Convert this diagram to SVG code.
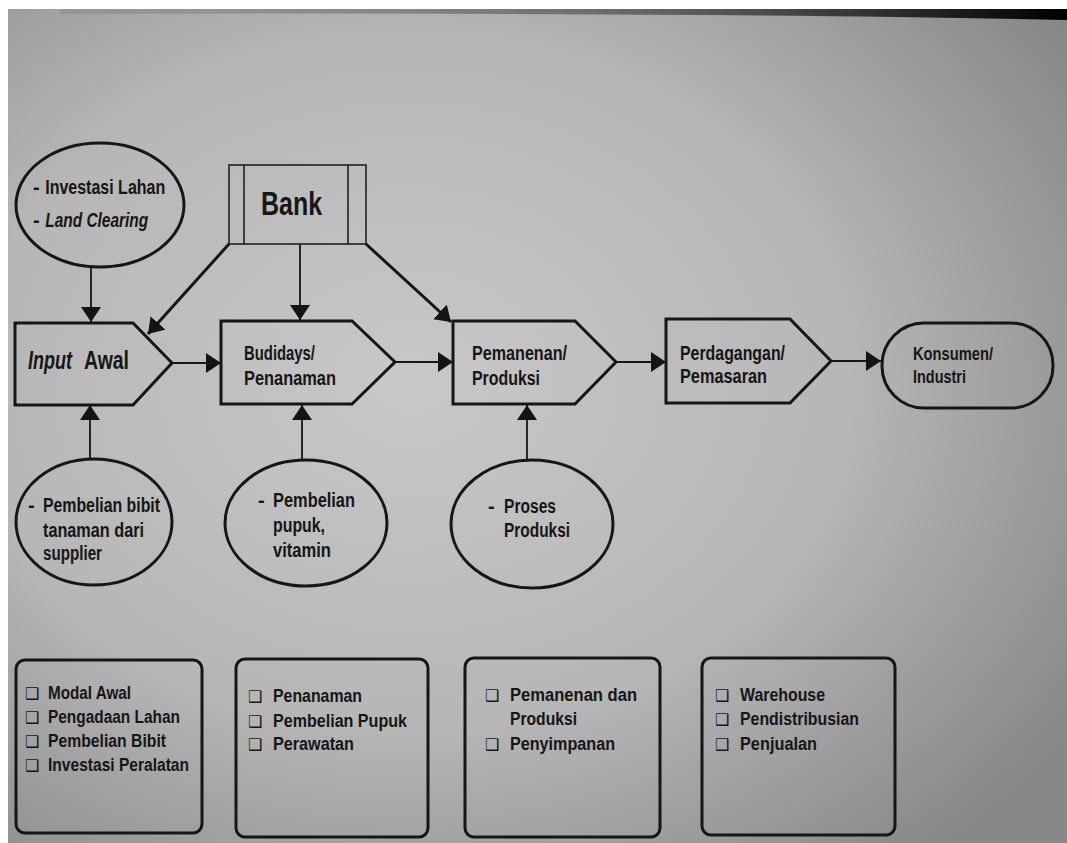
<svg xmlns="http://www.w3.org/2000/svg" width="1067" height="843" viewBox="0 0 1067 843">
<defs>
  <radialGradient id="bg" cx="0.38" cy="0.45" r="0.75">
    <stop offset="0" stop-color="#c8c8c8"/>
    <stop offset="0.55" stop-color="#b6b6b6"/>
    <stop offset="1" stop-color="#878787"/>
  </radialGradient>
  <linearGradient id="topband" x1="0" y1="0" x2="1" y2="0">
    <stop offset="0" stop-color="#777" stop-opacity="0.3"/>
    <stop offset="0.6" stop-color="#333" stop-opacity="0.6"/>
    <stop offset="1" stop-color="#000" stop-opacity="1"/>
  </linearGradient>
  <marker id="ah" markerUnits="userSpaceOnUse" markerWidth="16" markerHeight="20" refX="15" refY="10" orient="auto">
    <path d="M0,0 L15,10 L0,20 z" fill="#141414"/>
  </marker>
  <style>
    .shape { fill: none; stroke: #161616; stroke-width: 3; }
    .thin { fill: none; stroke: #161616; stroke-width: 1.5; }
    .conn { fill: none; stroke: #161616; stroke-width: 1.8; marker-end: url(#ah); }
    .connb { fill: none; stroke: #161616; stroke-width: 3; marker-end: url(#ah); }
    text { font-family: "Liberation Sans Narrow", "Liberation Sans", Arial, sans-serif; fill: #161616; font-weight: bold; }
    .node { font-size: 21px; }
    .ell { font-size: 20px; }
    .item { font-size: 18px; }
    .cb { font-family: "DejaVu Sans", sans-serif; font-size: 16px; font-weight: normal; }
  </style>
</defs>

<rect x="0" y="0" width="1067" height="843" fill="#ffffff"/>
<rect x="8" y="9" width="1059" height="834" fill="url(#bg)"/>
<path d="M60,9 L1067,9 L1067,20 Q700,12 60,14 z" fill="url(#topband)"/>

<g id="connectors">
  <path class="conn" d="M91,267 V322"/>
  <path class="connb" d="M229,244 L148,334"/>
  <path class="conn" d="M300,244 V320"/>
  <path class="connb" d="M366,244 L451,322"/>
  <path class="conn" d="M172,363 H221"/>
  <path class="conn" d="M395,362 H453"/>
  <path class="conn" d="M616,362 H666"/>
  <path class="conn" d="M831,361 H881"/>
  <path class="conn" d="M90,460 V405"/>
  <path class="conn" d="M302,460 V405"/>
  <path class="conn" d="M527,460 V405"/>
</g>

<g id="investasi">
  <ellipse class="shape" cx="100" cy="205" rx="84" ry="62"/>
  <text class="ell" x="33" y="194">- <tspan textLength="120" lengthAdjust="spacingAndGlyphs">Investasi Lahan</tspan></text>
  <text class="ell" x="33" y="227" font-style="italic">- <tspan textLength="103" lengthAdjust="spacingAndGlyphs">Land Clearing</tspan></text>
</g>

<g id="bank">
  <rect class="thin" x="229" y="165" width="137" height="79"/>
  <line class="thin" x1="244" y1="165" x2="244" y2="244"/>
  <line class="thin" x1="348" y1="165" x2="348" y2="244"/>
  <text x="261" y="215" font-size="34" textLength="61" lengthAdjust="spacingAndGlyphs">Bank</text>
</g>

<g id="input-awal">
  <path class="shape" d="M15,323 H133 L172,363 L133,405 H15 z"/>
  <text x="28" y="369" font-size="25" font-style="italic" textLength="44" lengthAdjust="spacingAndGlyphs">Input</text>
  <text x="84" y="369" font-size="25" textLength="45" lengthAdjust="spacingAndGlyphs">Awal</text>
</g>

<g id="budidaya">
  <path class="shape" d="M221,321 H352 L395,362 L352,404 H221 z"/>
  <text class="node" x="244" y="360" textLength="71" lengthAdjust="spacingAndGlyphs">Budidays/</text>
  <text class="node" x="244" y="385" textLength="92" lengthAdjust="spacingAndGlyphs">Penanaman</text>
</g>

<g id="pemanenan">
  <path class="shape" d="M453,321 H575 L616,362 L575,404 H453 z"/>
  <text class="node" x="472" y="360" textLength="95" lengthAdjust="spacingAndGlyphs">Pemanenan/</text>
  <text class="node" x="472" y="385" textLength="68" lengthAdjust="spacingAndGlyphs">Produksi</text>
</g>

<g id="perdagangan">
  <path class="shape" d="M666,319 H790 L831,361 L790,403 H666 z"/>
  <text class="node" x="680" y="360" textLength="105" lengthAdjust="spacingAndGlyphs">Perdagangan/</text>
  <text class="node" x="680" y="383" textLength="87" lengthAdjust="spacingAndGlyphs">Pemasaran</text>
</g>

<g id="konsumen">
  <rect class="shape" x="882" y="323" width="171" height="85" rx="42" ry="42"/>
  <text x="913" y="360" font-size="19" font-weight="normal" textLength="80" lengthAdjust="spacingAndGlyphs">Konsumen/</text>
  <text x="913" y="383" font-size="19" font-weight="normal" textLength="53" lengthAdjust="spacingAndGlyphs">Industri</text>
</g>

<g id="bibit">
  <ellipse class="shape" cx="94" cy="522" rx="78" ry="63"/>
  <text class="ell" x="28" y="512">-</text>
  <text class="ell" x="43" y="512" textLength="117" lengthAdjust="spacingAndGlyphs">Pembelian bibit</text>
  <text class="ell" x="43" y="537" textLength="101" lengthAdjust="spacingAndGlyphs">tanaman dari</text>
  <text class="ell" x="43" y="560" textLength="59" lengthAdjust="spacingAndGlyphs">supplier</text>
</g>

<g id="pupuk">
  <ellipse class="shape" cx="306" cy="523" rx="81" ry="63"/>
  <text class="ell" x="258" y="507">-</text>
  <text class="ell" x="273" y="507" textLength="82" lengthAdjust="spacingAndGlyphs">Pembelian</text>
  <text class="ell" x="273" y="532" textLength="52" lengthAdjust="spacingAndGlyphs">pupuk,</text>
  <text class="ell" x="273" y="557" textLength="58" lengthAdjust="spacingAndGlyphs">vitamin</text>
</g>

<g id="proses">
  <ellipse class="shape" cx="532" cy="524" rx="81" ry="64"/>
  <text class="ell" x="488" y="513">-</text>
  <text class="ell" x="504" y="513" textLength="52" lengthAdjust="spacingAndGlyphs">Proses</text>
  <text class="ell" x="504" y="537" textLength="66" lengthAdjust="spacingAndGlyphs">Produksi</text>
</g>

<g id="list-1">
  <rect class="shape" x="16" y="660" width="186" height="173" rx="9" ry="9"/>
  <text class="cb" x="25" y="699">❑</text>
  <text class="item" x="48" y="699" textLength="83" lengthAdjust="spacingAndGlyphs">Modal Awal</text>
  <text class="cb" x="25" y="723">❑</text>
  <text class="item" x="48" y="723" textLength="132" lengthAdjust="spacingAndGlyphs">Pengadaan Lahan</text>
  <text class="cb" x="25" y="747">❑</text>
  <text class="item" x="48" y="747" textLength="118" lengthAdjust="spacingAndGlyphs">Pembelian Bibit</text>
  <text class="cb" x="25" y="771">❑</text>
  <text class="item" x="48" y="771" textLength="141" lengthAdjust="spacingAndGlyphs">Investasi Peralatan</text>
</g>

<g id="list-2">
  <rect class="shape" x="236" y="659" width="192" height="178" rx="9" ry="9"/>
  <text class="cb" x="248" y="702">❑</text>
  <text class="item" x="273" y="702" textLength="89" lengthAdjust="spacingAndGlyphs">Penanaman</text>
  <text class="cb" x="248" y="727">❑</text>
  <text class="item" x="273" y="727" textLength="134" lengthAdjust="spacingAndGlyphs">Pembelian Pupuk</text>
  <text class="cb" x="248" y="750">❑</text>
  <text class="item" x="273" y="750" textLength="81" lengthAdjust="spacingAndGlyphs">Perawatan</text>
</g>

<g id="list-3">
  <rect class="shape" x="465" y="658" width="195" height="179" rx="9" ry="9"/>
  <text class="cb" x="485" y="701">❑</text>
  <text class="item" x="510" y="701" textLength="127" lengthAdjust="spacingAndGlyphs">Pemanenan dan</text>
  <text class="item" x="510" y="725" textLength="67" lengthAdjust="spacingAndGlyphs">Produksi</text>
  <text class="cb" x="485" y="750">❑</text>
  <text class="item" x="510" y="750" textLength="105" lengthAdjust="spacingAndGlyphs">Penyimpanan</text>
</g>

<g id="list-4">
  <rect class="shape" x="702" y="658" width="193" height="177" rx="9" ry="9"/>
  <text class="cb" x="715" y="701">❑</text>
  <text class="item" x="740" y="701" textLength="85" lengthAdjust="spacingAndGlyphs">Warehouse</text>
  <text class="cb" x="715" y="725">❑</text>
  <text class="item" x="740" y="725" textLength="119" lengthAdjust="spacingAndGlyphs">Pendistribusian</text>
  <text class="cb" x="715" y="750">❑</text>
  <text class="item" x="740" y="750" textLength="77" lengthAdjust="spacingAndGlyphs">Penjualan</text>
</g>
</svg>
